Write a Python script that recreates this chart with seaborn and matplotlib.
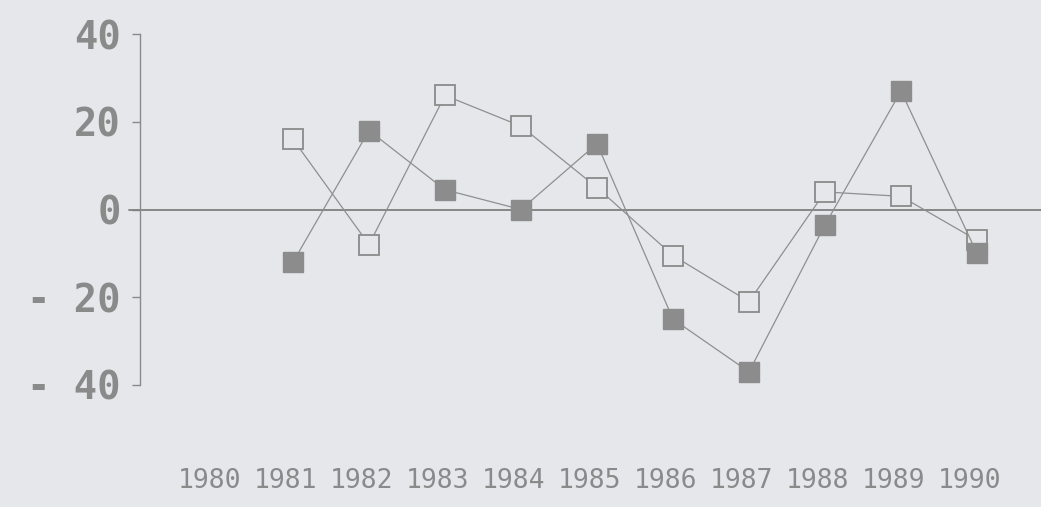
import matplotlib
matplotlib.use("Agg")
import matplotlib.pyplot as plt
import matplotlib.transforms as mtrans
import seaborn as sns
import pandas as pd

years = [1981, 1982, 1983, 1984, 1985, 1986, 1987, 1988, 1989, 1990]
open_vals = [16, -8, 26, 19, 5, -10.5, -21, 4, 3, -7]
filled_vals = [-12, 18, 4.5, 0, 15, -25, -37, -3.5, 27, -10]
xtick_years = list(range(1980, 1991))
ytick_vals = [40, 20, 0, -20, -40]
ytick_labels = ["40", "20", "0", "- 20", "- 40"]

BG = "#e5e7eb"
INK = "#8a8a8a"
LINE = "#8f8f8f"

sns.set_style("white")
plt.rcParams["font.family"] = ["DejaVu Sans Mono", "DejaVu Sans"]

fig = plt.figure(figsize=(10.41, 5.07), dpi=100, facecolor=BG)
ax = fig.add_axes([140 / 1041, (507 - 385) / 507, (1041 - 140) / 1041, (385 - 34) / 507])
ax.set_facecolor(BG)

df_open = pd.DataFrame({"year": years, "value": open_vals})
df_fill = pd.DataFrame({"year": years, "value": filled_vals})

ax.axhline(0, color="#7f7f7f", lw=1.3, zorder=1, clip_on=False, xmin=-0.012)

sns.lineplot(data=df_open, x="year", y="value", ax=ax, color=LINE, lw=0.9,
             marker="s", markersize=14, markerfacecolor=BG, markeredgecolor="#8a8a8a",
             markeredgewidth=1.3, zorder=3)
sns.lineplot(data=df_fill, x="year", y="value", ax=ax, color=LINE, lw=0.9,
             marker="s", markersize=14, markerfacecolor="#8c8c8c", markeredgecolor="#8c8c8c",
             markeredgewidth=1.0, zorder=4)

ax.set_xlim(1980 - 77 / 76, 1980 + 824 / 76)
ax.set_ylim(-40, 40)

for s in ["top", "right", "bottom"]:
    ax.spines[s].set_visible(False)
ax.spines["left"].set_color("#8a8a8a")
ax.spines["left"].set_linewidth(1.0)

ax.set_yticks(ytick_vals)
ax.set_yticklabels(ytick_labels, fontsize=28, fontweight="bold", color=INK)
ax.tick_params(axis="y", direction="out", length=6, width=1, color="#8a8a8a", pad=8, left=True)

ax.set_xticks(xtick_years)
ax.set_xticklabels([str(y) for y in xtick_years], fontsize=19, color=INK)
ax.tick_params(axis="x", length=0, pad=60)
shift = mtrans.ScaledTranslation(-7 / 100, 0, fig.dpi_scale_trans)
for lab in ax.get_xticklabels():
    lab.set_transform(lab.get_transform() + shift)

ax.set_xlabel("")
ax.set_ylabel("")
ax.grid(False)

fig.savefig("out.png", dpi=100, facecolor=BG)
